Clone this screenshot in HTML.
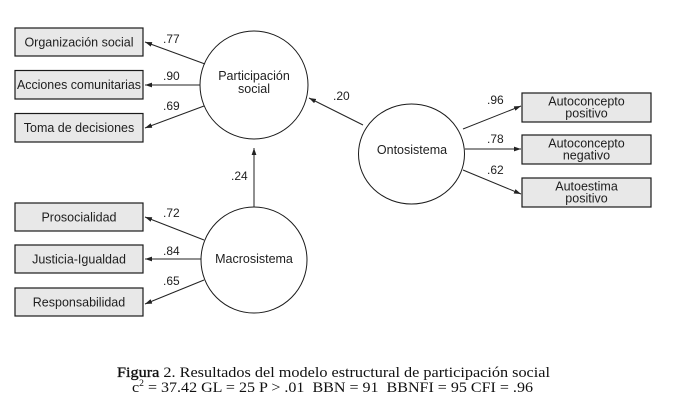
<!DOCTYPE html>
<html>
<head>
<meta charset="utf-8">
<style>
  html, body { margin:0; padding:0; background:#fff; }
  body { width:685px; height:418px; overflow:hidden; }
  svg { display:block; }
  .s { font-family:"Liberation Sans", Arial, sans-serif; fill:#1e1e1e; }
  .b { font-size:12.5px; }
  .c { font-size:12.5px; }
  .l { font-size:12px; }
  .cap { font-family:"Liberation Serif", "Times New Roman", serif; font-size:15px; fill:#111; }
</style>
</head>
<body>
<svg width="685" height="418" viewBox="0 0 685 418" xmlns="http://www.w3.org/2000/svg">
  <defs>
    <marker id="ah" markerWidth="8" markerHeight="6" refX="7" refY="3" orient="auto" markerUnits="userSpaceOnUse">
      <path d="M0,0.6 L7,3 L0,5.4 Z" fill="#222"/>
    </marker>
  </defs>

  <!-- Left boxes -->
  <g fill="#e8e8e8" stroke="#1a1a1a" stroke-width="1.2">
    <rect x="15" y="28" width="128" height="28"/>
    <rect x="15" y="70.5" width="128" height="28.5"/>
    <rect x="15" y="113.5" width="128" height="28.5"/>
    <rect x="15" y="203" width="128" height="28"/>
    <rect x="15" y="245" width="128" height="28"/>
    <rect x="15" y="288" width="128" height="28"/>
    <rect x="522" y="93" width="129" height="29"/>
    <rect x="522" y="135" width="129" height="29"/>
    <rect x="522" y="178" width="129" height="29"/>
  </g>

  <g class="s b" text-anchor="middle">
    <text x="79" y="46.5">Organización social</text>
    <text x="79" y="89" textLength="124" lengthAdjust="spacingAndGlyphs">Acciones comunitarias</text>
    <text x="79" y="132">Toma de decisiones</text>
    <text x="79" y="221.5">Prosocialidad</text>
    <text x="79" y="263.5">Justicia-Igualdad</text>
    <text x="79" y="306.5">Responsabilidad</text>
    <text x="586.5" y="105.5">Autoconcepto</text>
    <text x="586.5" y="117.5">positivo</text>
    <text x="586.5" y="147.5">Autoconcepto</text>
    <text x="586.5" y="159.5">negativo</text>
    <text x="586.5" y="190.5">Autoestima</text>
    <text x="586.5" y="202.5">positivo</text>
  </g>

  <!-- Circles -->
  <g fill="#fff" stroke="#1a1a1a" stroke-width="1">
    <circle cx="254" cy="85" r="54"/>
    <circle cx="254" cy="260" r="53"/>
    <ellipse cx="411.5" cy="154" rx="53" ry="50"/>
  </g>

  <g class="s c" text-anchor="middle">
    <text x="254" y="80">Participación</text>
    <text x="254" y="93">social</text>
    <text x="254" y="263">Macrosistema</text>
    <text x="412" y="154">Ontosistema</text>
  </g>

  <!-- Connectors -->
  <g stroke="#222" stroke-width="1" fill="none" marker-end="url(#ah)">
    <line x1="205" y1="64" x2="145" y2="42"/>
    <line x1="200" y1="85" x2="145" y2="85"/>
    <line x1="204" y1="106" x2="145" y2="128"/>
    <line x1="363" y1="125" x2="309" y2="98"/>
    <line x1="254" y1="207" x2="254" y2="148"/>
    <line x1="204" y1="240" x2="145" y2="217"/>
    <line x1="201" y1="259" x2="145" y2="259"/>
    <line x1="204" y1="280" x2="145" y2="304"/>
    <line x1="463" y1="129" x2="521" y2="106"/>
    <line x1="465" y1="149" x2="521" y2="149"/>
    <line x1="463" y1="170" x2="521" y2="194"/>
  </g>

  <!-- Coefficients -->
  <g class="s l">
    <text x="163" y="43">.77</text>
    <text x="163" y="80">.90</text>
    <text x="163" y="110">.69</text>
    <text x="333" y="100">.20</text>
    <text x="231" y="180">.24</text>
    <text x="163" y="217">.72</text>
    <text x="163" y="255">.84</text>
    <text x="163" y="285">.65</text>
    <text x="487" y="104">.96</text>
    <text x="487" y="143">.78</text>
    <text x="487" y="174">.62</text>
  </g>

  <!-- Caption -->
  <text class="cap" x="117" y="377" textLength="433" lengthAdjust="spacingAndGlyphs"><tspan stroke="#111" stroke-width="0.35">Figura</tspan> 2. Resultados del modelo estructural de participación social</text>
  <text class="cap" x="132" y="392" textLength="401" lengthAdjust="spacingAndGlyphs">c<tspan font-size="9" dy="-6">2</tspan><tspan dy="6"> = 37.42 GL = 25 P &gt; .01&#160; BBN = 91&#160; BBNFI = 95 CFI = .96</tspan></text>
</svg>
</body>
</html>
